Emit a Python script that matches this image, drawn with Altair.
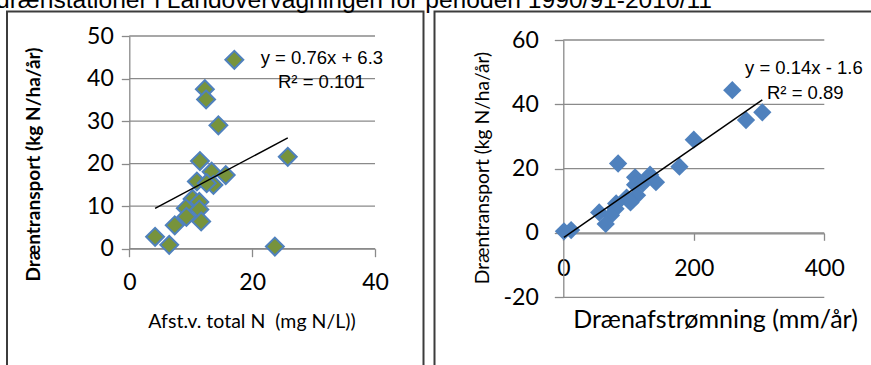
import altair as alt
import pandas as pd

# ---------------- data ----------------
transport = [44.4, 37.5, 35.1, 29.0, 21.6, 20.6, 18.1, 17.3, 15.8, 15.0, 15.4,
             11.7, 11.0, 9.5, 9.2, 7.5, 6.4, 5.5, 2.8, 0.9, 0.5]
total_n = [17.1, 12.3, 12.5, 14.5, 25.8, 11.5, 13.4, 15.7, 11.0, 13.7, 12.6,
           10.3, 11.4, 9.2, 11.4, 9.3, 11.7, 7.4, 4.2, 6.5, 23.7]
runoff = [259, 305, 280, 200, 84, 178, 133, 110, 142, 110, 122,
          113, 97, 103, 81, 80, 55, 73, 65, 12, 1]

left_x_ticks = [0, 20, 40]
left_y_ticks = [0, 10, 20, 30, 40, 50]
right_x_ticks = [0, 200, 400]
right_y_ticks = [-20, 0, 20, 40, 60]

left_eq = ["y = 0.76x + 6.3", "R\u00b2 = 0.101"]
right_eq = ["y = 0.14x - 1.6", "R\u00b2 = 0.89"]

y_title = "Dræntransport (kg N/ha/år)"
left_x_title = "Afst.v. total N\u00a0 (mg N/L))"
right_x_title = "Drænafstrømning (mm/år)"
top_text = "drænstationer i Landovervågningen for perioden 1990/91-2010/11"

df = pd.DataFrame({"n": total_n, "q": runoff, "t": transport})

W, H = 871, 365
GRID = "#8a8a8a"
FONT = "Lato"
EQFONT = "Liberation Sans"
PLAIN = "'' + datum.value"

# ---------------- left panel ----------------
xL = alt.Scale(domain=[0, 40], range=[129.3, 375], nice=False, zero=False)
yL = alt.Scale(domain=[0, 50], range=[248.7, 36], nice=False, zero=False)
axL_x = alt.Axis(orient="bottom", offset=248.7 - H, values=left_x_ticks, grid=False,
                 domainColor=GRID, domainWidth=1.3, tickColor=GRID, tickWidth=1.3,
                 tickSize=8, labelFont=FONT, labelFontSize=23, labelColor="black",
                 labelPadding=26, labelBaseline="middle", labelOverlap=False,
                 labelFlush=False, labelExpr=PLAIN, title=None)
axL_y = alt.Axis(orient="left", offset=-129.3, values=left_y_ticks, grid=False,
                 domainColor=GRID, domainWidth=1.3, tickColor=GRID, tickWidth=1.3,
                 tickSize=8, labelFont=FONT, labelFontSize=23, labelColor="black",
                 labelPadding=8, labelOverlap=False, labelFlush=False,
                 labelExpr=PLAIN, title=None)

gridL = alt.Chart(pd.DataFrame({"v": left_y_ticks})).transform_calculate(
    a="0", b="40").mark_rule(color=GRID, strokeWidth=1.3).encode(
    x=alt.X("a:Q", scale=xL, axis=axL_x), x2="b:Q",
    y=alt.Y("v:Q", scale=yL, axis=axL_y))
ptsL = alt.Chart(df).mark_point(shape="diamond", filled=True, fill="#77933C",
                                stroke="#4F81BD", strokeWidth=2, size=320, opacity=1).encode(
    x=alt.X("n:Q", scale=xL, axis=axL_x), y=alt.Y("t:Q", scale=yL, axis=axL_y))
trendL = alt.Chart(df).transform_regression("n", "t").mark_line(
    color="black", strokeWidth=1.5).encode(
    x=alt.X("n:Q", scale=xL, axis=axL_x), y=alt.Y("t:Q", scale=yL, axis=axL_y))
left_panel = alt.layer(gridL, ptsL, trendL)

# ---------------- right panel ----------------
xR = alt.Scale(domain=[0, 400], range=[563.3, 824.3], nice=False, zero=False)
yR = alt.Scale(domain=[-20, 60], range=[297.3, 40], nice=False, zero=False)
axR_x = alt.Axis(orient="bottom", offset=233.3 - H, values=right_x_ticks, grid=False,
                 domainColor=GRID, domainWidth=1.3, tickColor=GRID, tickWidth=1.3,
                 tickSize=7, labelFont=FONT, labelFontSize=23, labelColor="black",
                 labelPadding=28, labelBaseline="middle", labelOverlap=False,
                 labelFlush=False, labelExpr=PLAIN, title=None)
axR_y = alt.Axis(orient="left", offset=-563.3, values=right_y_ticks, grid=False,
                 domainColor=GRID, domainWidth=1.3, tickColor=GRID, tickWidth=1.3,
                 tickSize=9, labelFont=FONT, labelFontSize=23, labelColor="black",
                 labelPadding=16, labelOverlap=False, labelFlush=False,
                 labelExpr=PLAIN, title=None)

gridR = alt.Chart(pd.DataFrame({"v": right_y_ticks})).transform_calculate(
    a="0", b="400").mark_rule(color=GRID, strokeWidth=1.3).encode(
    x=alt.X("a:Q", scale=xR, axis=axR_x), x2="b:Q",
    y=alt.Y("v:Q", scale=yR, axis=axR_y))
ptsR = alt.Chart(df).mark_point(shape="diamond", filled=True, color="#4F81BD",
                                size=335, opacity=1).encode(
    x=alt.X("q:Q", scale=xR, axis=axR_x), y=alt.Y("t:Q", scale=yR, axis=axR_y))
trendR = alt.Chart(df).transform_regression("q", "t").mark_line(
    color="black", strokeWidth=1.5).encode(
    x=alt.X("q:Q", scale=xR, axis=axR_x), y=alt.Y("t:Q", scale=yR, axis=axR_y))
right_panel = alt.layer(gridR, ptsR, trendR)


# ---------------- frames and texts ----------------
def frame(x1, x2, y1, y2):
    return alt.Chart(pd.DataFrame({"a": [0]})).mark_rect(
        filled=False, stroke="#3c3c3c", strokeWidth=2).encode(
        x=alt.value(x1), x2=alt.value(x2), y=alt.value(y1), y2=alt.value(y2))


def label(s, x, y, size, weight="normal", angle=0, align="center",
          baseline="middle", font=FONT):
    return alt.Chart(pd.DataFrame({"s": [s]})).mark_text(
        font=font, fontSize=size, fontWeight=weight, angle=angle, align=align,
        baseline=baseline, color="black").encode(
        text="s:N", x=alt.value(x), y=alt.value(y))


texts = [
    label(top_text, -4, 7.5, 24.6, align="left", baseline="alphabetic",
          font="Liberation Sans"),
    label(y_title, 34, 164.5, 19, weight="bold", angle=270),
    label(left_x_title, 252, 321.7, 19.5),
    label(y_title, 483, 168, 19.2, angle=270),
    label(right_x_title, 715.5, 320, 25),
    label(left_eq[0], 260.7, 57.7, 18.5, align="left", font=EQFONT),
    label(left_eq[1], 278, 82, 18.5, align="left", font=EQFONT),
    label(right_eq[0], 745, 68, 18.5, align="left", font=EQFONT),
    label(right_eq[1], 767, 93, 18.5, align="left", font=EQFONT),
]

chart = alt.layer(
    frame(7, 423.5, 11.5, 400), frame(434.5, 900, 11.5, 400),
    left_panel, right_panel, *texts
).resolve_scale(x="independent", y="independent").properties(
    width=W, height=H, padding=0,
    autosize=alt.AutoSizeParams(type="none"),
    background="white"
).configure_view(strokeWidth=0)

chart.save("out.html", embed_options={"renderer": "svg", "actions": False})
